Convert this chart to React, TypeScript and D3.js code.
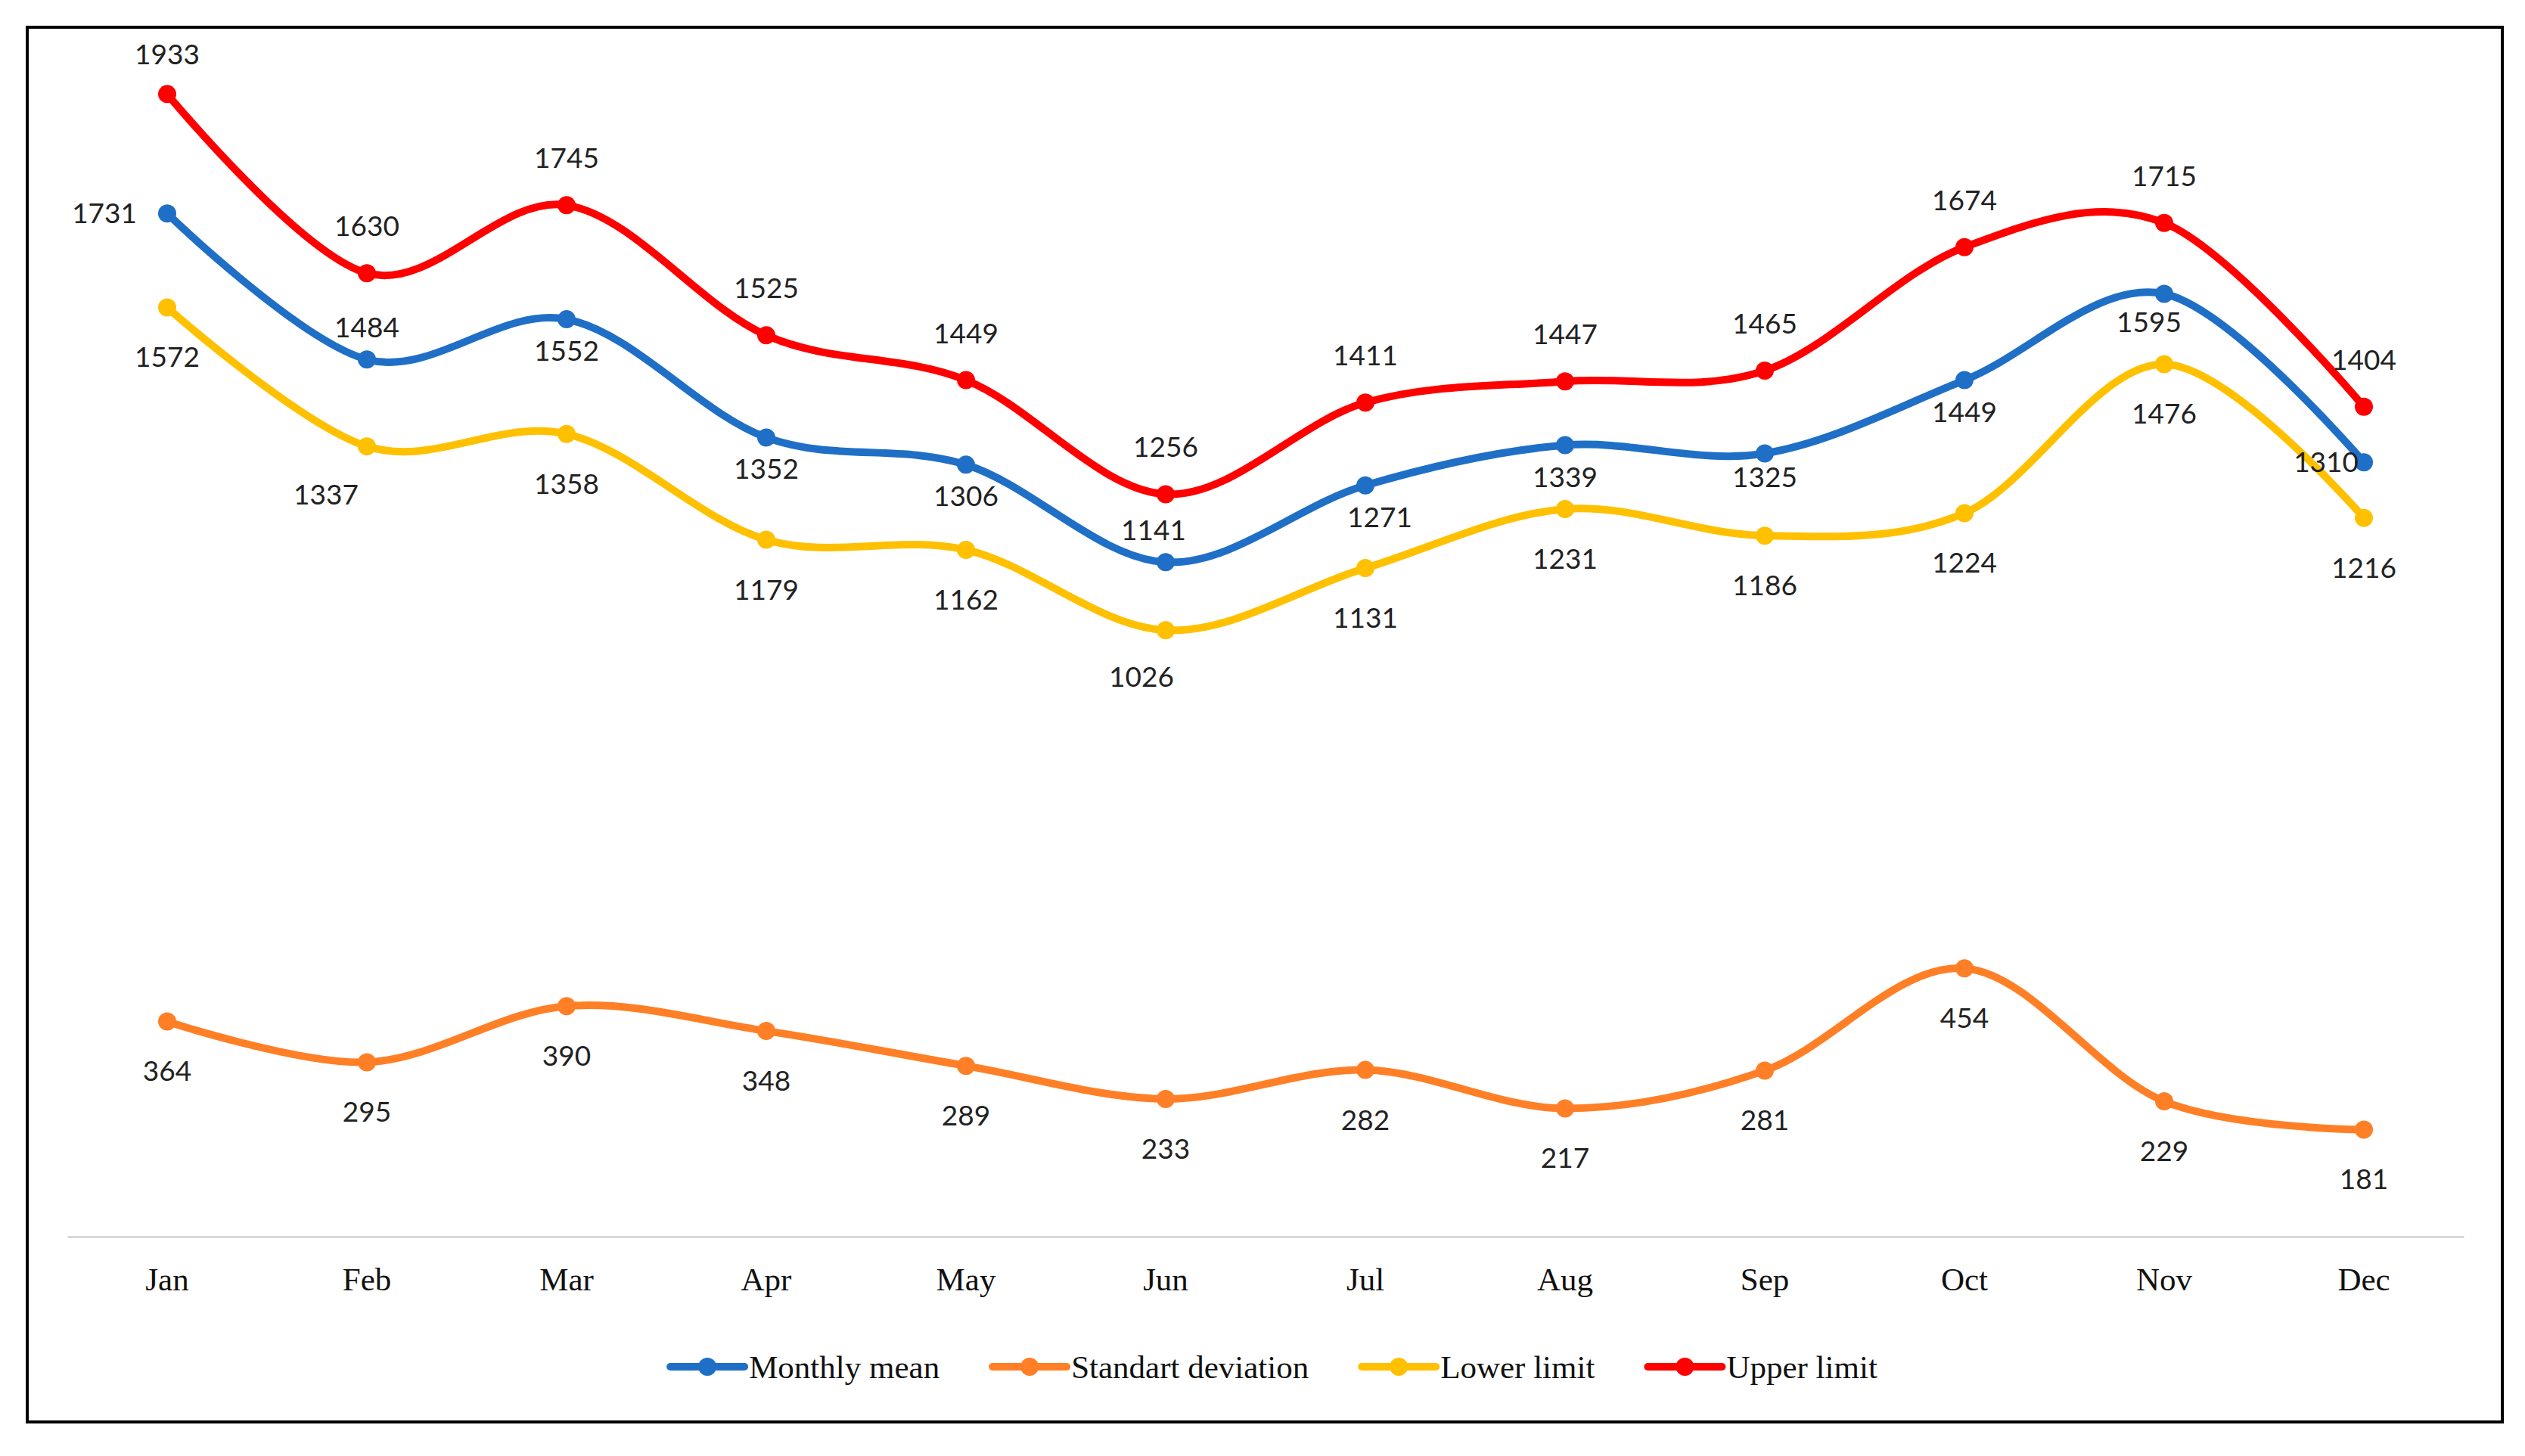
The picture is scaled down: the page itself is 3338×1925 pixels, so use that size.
import { useRef, useEffect } from 'react';
import * as d3 from 'd3';

const months = ['Jan', 'Feb', 'Mar', 'Apr', 'May', 'Jun', 'Jul', 'Aug', 'Sep', 'Oct', 'Nov', 'Dec'];
const monthlyMean = [1731, 1484, 1552, 1352, 1306, 1141, 1271, 1339, 1325, 1449, 1595, 1310];
const standartDeviation = [364, 295, 390, 348, 289, 233, 282, 217, 281, 454, 229, 181];
const lowerLimit = [1572, 1337, 1358, 1179, 1162, 1026, 1131, 1231, 1186, 1224, 1476, 1216];
const upperLimit = [1933, 1630, 1745, 1525, 1449, 1256, 1411, 1447, 1465, 1674, 1715, 1404];
const seriesNames = ['Monthly mean', 'Standart deviation', 'Lower limit', 'Upper limit'];
const yDomain = [0, 2000];

// where each data label sits: a = above, b = below, l = left
const meanPlacement = ['l', 'a', 'b', 'b', 'b', 'a', 'b', 'b', 'b', 'b', 'b', 'l'];

interface Series {
  name: string;
  values: number[];
  color: string;
  placement: string[];
  gap: number;
  nudge: Record<number, [number, number]>;
}

const WIDTH = 3338;
const HEIGHT = 1925;

export default function App() {
  const svgRef = useRef<SVGSVGElement>(null);

  useEffect(() => {
    document.body.style.margin = '0';
    document.body.style.overflow = 'hidden';
    if (!svgRef.current) return;

    const svg = d3.select(svgRef.current);
    svg.selectAll('*').remove();

    const series: Series[] = [
      { name: seriesNames[0], values: monthlyMean, color: '#1f6fc6', placement: meanPlacement, gap: 42, nudge: { 5: [-16, 0], 6: [19, 0], 8: [0, -10], 10: [-20, -4], 11: [33, 0] } },
      { name: seriesNames[1], values: standartDeviation, color: '#ff7f27', placement: months.map(() => 'b'), gap: 66, nudge: {} },
      { name: seriesNames[2], values: lowerLimit, color: '#ffc000', placement: months.map(() => 'b'), gap: 66, nudge: { 1: [-54, -2], 5: [-32, -4] } },
      { name: seriesNames[3], values: upperLimit, color: '#ff0000', placement: months.map(() => 'a'), gap: 62, nudge: { 0: [0, 10] } },
    ];

    const plot = { left: 89, right: 3257, top: 72, bottom: 1635 };

    const x = d3.scaleBand<string>().domain(months).range([plot.left, plot.right]);
    const cx = (m: string) => x(m)! + x.bandwidth() / 2;
    const y = d3.scaleLinear().domain(yDomain).range([plot.bottom, plot.top]);

    // outer frame
    svg.append('rect')
      .attr('x', 36).attr('y', 36)
      .attr('width', 3272).attr('height', 1844)
      .attr('fill', '#fff')
      .attr('stroke', '#000')
      .attr('stroke-width', 4);

    // category axis
    const xAxis = svg.append('g')
      .attr('transform', `translate(0,${plot.bottom})`)
      .call(d3.axisBottom(x).tickSize(0).tickPadding(42));
    xAxis.select('.domain').attr('stroke', '#d9d9d9').attr('stroke-width', 3);
    xAxis.selectAll('.tick text')
      .attr('font-family', '"Liberation Serif", "Times New Roman", serif')
      .attr('font-size', 43)
      .attr('fill', '#111')
      .attr('dy', '0.35em')
      .attr('y', 56);

    const line = d3.line<number>()
      .x((_, i) => cx(months[i]))
      .y((d) => y(d))
      .curve(d3.curveCatmullRom.alpha(0));

    // lines in order, last series on top
    series.forEach((s) => {
      const g = svg.append('g');
      g.append('path')
        .datum(s.values)
        .attr('d', line)
        .attr('fill', 'none')
        .attr('stroke', s.color)
        .attr('stroke-width', 10)
        .attr('stroke-linecap', 'round')
        .attr('stroke-linejoin', 'round');
      g.selectAll('circle')
        .data(s.values)
        .join('circle')
        .attr('cx', (_, i) => cx(months[i]))
        .attr('cy', (d) => y(d))
        .attr('r', 12)
        .attr('fill', s.color);
    });

    // data labels
    series.forEach((s) => {
      svg.append('g')
        .selectAll('text')
        .data(s.values)
        .join('text')
        .attr('font-family', 'Lato, "Open Sans", sans-serif')
        .attr('font-size', 37)
        .attr('fill', '#222')
        .attr('dy', '0.35em')
        .attr('text-anchor', (_, i) => (s.placement[i] === 'l' ? 'end' : 'middle'))
        .attr('x', (_, i) => {
          const base = cx(months[i]) + (s.nudge[i]?.[0] ?? 0);
          return s.placement[i] === 'l' ? base - 40 : base;
        })
        .attr('y', (d, i) => {
          const p = s.placement[i];
          const ny = s.nudge[i]?.[1] ?? 0;
          if (p === 'a') return y(d) - s.gap + ny;
          if (p === 'b') return y(d) + s.gap + ny;
          return y(d) + ny;
        })
        .text((d) => d);
    });

    // legend
    const legend = svg.append('g');
    let offset = 0;
    series.forEach((s) => {
      const item = legend.append('g').attr('transform', `translate(${offset},0)`);
      item.append('line')
        .attr('x1', 0).attr('x2', 98)
        .attr('stroke', s.color)
        .attr('stroke-width', 10)
        .attr('stroke-linecap', 'round');
      item.append('circle').attr('cx', 49).attr('r', 12).attr('fill', s.color);
      const t = item.append('text')
        .attr('x', 104)
        .attr('dy', '0.35em')
        .attr('font-family', '"Liberation Serif", "Times New Roman", serif')
        .attr('font-size', 43)
        .attr('fill', '#111')
        .text(s.name);
      const w = (t.node() as SVGTextElement).getComputedTextLength();
      offset += 104 + w + 70;
    });
    const total = offset - 70;
    legend.attr('transform', `translate(${(36 + 3308) / 2 - total / 2 + 12},1807)`);
  }, []);

  return (
    <svg
      ref={svgRef}
      width={WIDTH}
      height={HEIGHT}
      viewBox={`0 0 ${WIDTH} ${HEIGHT}`}
      style={{ display: 'block', background: '#fff' }}
    />
  );
}
